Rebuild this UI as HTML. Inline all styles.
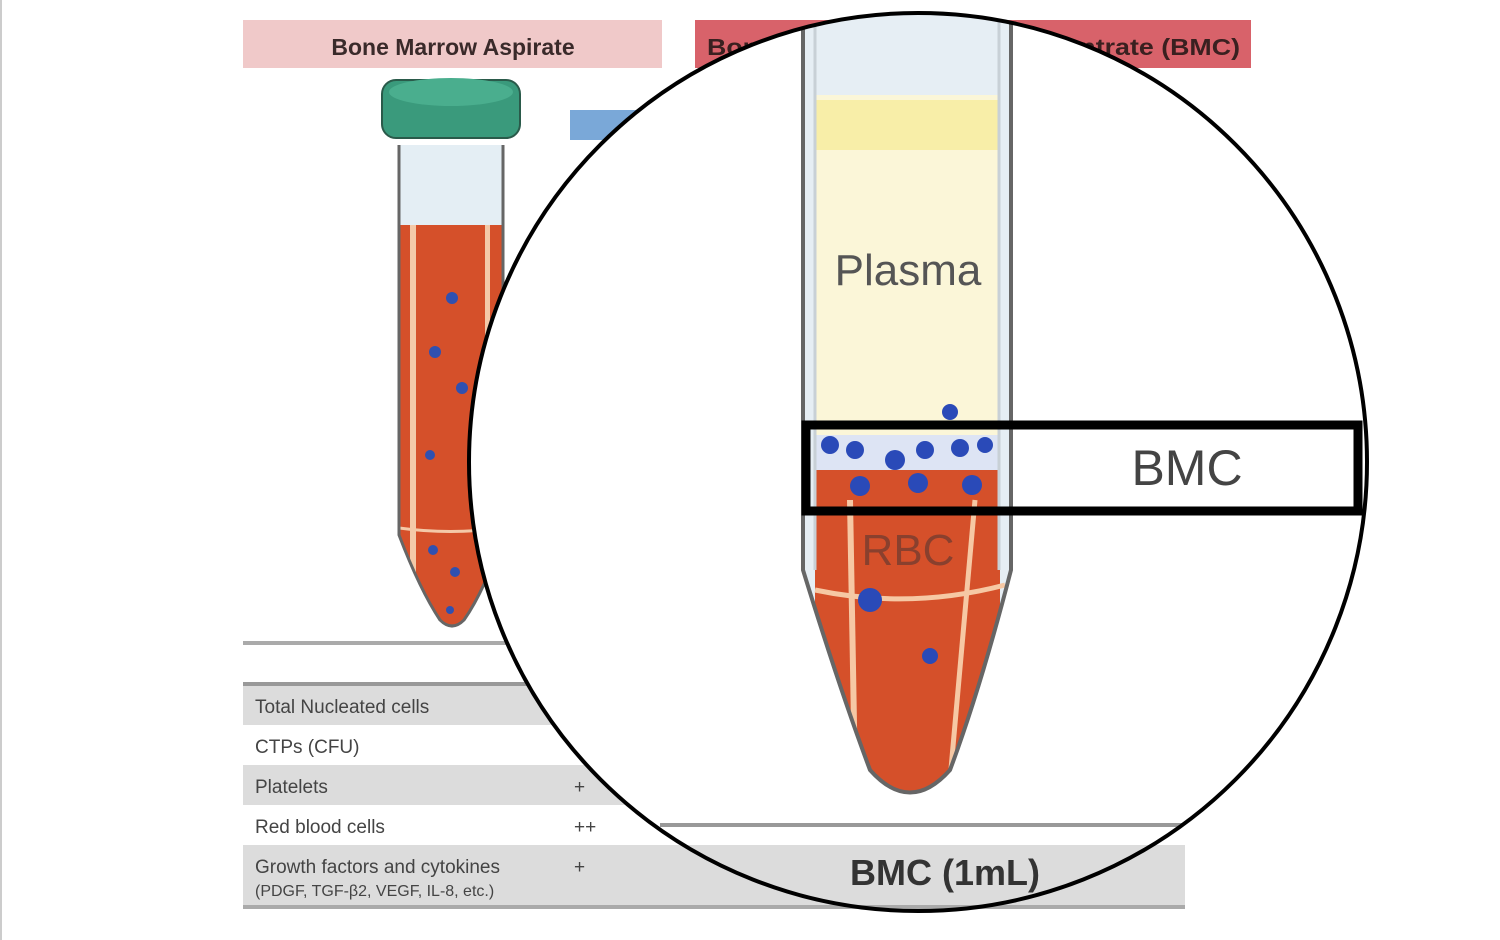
<!DOCTYPE html>
<html><head><meta charset="utf-8"><style>
html,body{margin:0;padding:0;background:#fff;}
svg{display:block;}
text{font-family:"Liberation Sans",sans-serif;}
</style></head><body>
<svg width="1500" height="940" viewBox="0 0 1500 940" xmlns="http://www.w3.org/2000/svg">
<defs>
<clipPath id="c"><circle cx="918" cy="462" r="449"/></clipPath>
<clipPath id="bt"><path d="M803 0 L803 570 Q840 690 870 770 Q910 815 950 770 Q980 690 1011 570 L1011 0 Z"/></clipPath>
<clipPath id="st"><path d="M399 145 L399 535 Q420 590 440 620 Q452 632 464 620 Q485 590 503 535 L503 145 Z"/></clipPath>
</defs>
<rect x="0" y="0" width="2" height="940" fill="#ccc"/>
<!-- headers -->
<rect x="243" y="20" width="419" height="48" fill="#f0c9c9"/>
<text x="453" y="55" font-size="23" font-weight="bold" text-anchor="middle" fill="#3a2a2a">Bone Marrow Aspirate</text>
<rect x="695" y="20" width="556" height="48" fill="#d8626a"/>
<text x="707" y="55" font-size="23" font-weight="bold" textLength="533" lengthAdjust="spacingAndGlyphs" fill="#3a2020">Bone Marrow Aspirate Concentrate (BMC)</text>
<rect x="570" y="110" width="70" height="30" fill="#7aa8d8"/>
<!-- small tube -->
<g clip-path="url(#st)">
<rect x="395" y="140" width="112" height="500" fill="#e4eef4"/>
<rect x="395" y="225" width="112" height="420" fill="#d5502a"/>
<rect x="410" y="225" width="6" height="400" fill="#f4c9a8"/>
<rect x="485" y="225" width="5" height="400" fill="#f4c9a8"/>
<path d="M399 528 Q450 535 503 528" stroke="#f4c9a8" stroke-width="3" fill="none"/>
</g>
<path d="M399 145 L399 535 Q420 590 440 620 Q452 632 464 620 Q485 590 503 535 L503 145" stroke="#666" stroke-width="3" fill="none"/>
<g fill="#3050b0"><circle cx="452" cy="298" r="6"/><circle cx="435" cy="352" r="6"/><circle cx="462" cy="388" r="6"/><circle cx="430" cy="455" r="5"/><circle cx="433" cy="550" r="5"/><circle cx="455" cy="572" r="5"/><circle cx="450" cy="610" r="4"/></g>
<rect x="382" y="80" width="138" height="58" rx="14" fill="#3a9a7c" stroke="#2a5a4a" stroke-width="2"/>
<ellipse cx="451" cy="92" rx="62" ry="14" fill="#4aae8e"/>
<!-- table -->
<rect x="243" y="641" width="420" height="4" fill="#aaa"/>
<rect x="243" y="682" width="950" height="4" fill="#999"/>
<rect x="243" y="686" width="950" height="39" fill="#dcdcdc"/>
<rect x="243" y="765" width="950" height="40" fill="#dcdcdc"/>
<rect x="243" y="845" width="942" height="60" fill="#dcdcdc"/>
<rect x="243" y="905" width="942" height="4" fill="#aaa"/>
<g font-size="19" fill="#444">
<text x="255" y="713">Total Nucleated cells</text>
<text x="255" y="753">CTPs (CFU)</text>
<text x="255" y="793">Platelets</text>
<text x="255" y="833">Red blood cells</text>
<text x="255" y="873">Growth factors and cytokines</text>
<text x="255" y="896" font-size="16">(PDGF, TGF-β2, VEGF, IL-8, etc.)</text>
<text x="574" y="793">+</text><text x="574" y="833">++</text><text x="574" y="873">+</text>
</g>
<!-- magnifier -->
<circle cx="918" cy="462" r="449" fill="#fff"/>
<g clip-path="url(#c)">
<rect x="243" y="845" width="942" height="60" fill="#dcdcdc"/>
<rect x="243" y="905" width="942" height="4" fill="#aaa"/>
<rect x="660" y="823" width="525" height="4" fill="#999"/>
<text x="945" y="885" font-size="36" font-weight="bold" text-anchor="middle" fill="#333">BMC (1mL)</text>
<g clip-path="url(#bt)">
<rect x="795" y="0" width="230" height="820" fill="#e6eef4"/>
<rect x="815" y="95" width="185" height="340" fill="#fbf6d8"/>
<rect x="815" y="100" width="185" height="50" fill="#f7ec9c" opacity="0.8"/>
<rect x="815" y="435" width="185" height="40" fill="#dde4f4"/>
<rect x="815" y="470" width="185" height="360" fill="#d5502a"/>
<path d="M815 590 Q910 610 1005 585" stroke="#f6c8a4" stroke-width="5" fill="none"/>
<path d="M850 500 L855 780" stroke="#f6c8a4" stroke-width="6"/>
<path d="M975 500 L950 780" stroke="#f6c8a4" stroke-width="5"/>
</g>
<path d="M803 0 L803 570 Q840 690 870 770 Q910 815 950 770 Q980 690 1011 570 L1011 0" stroke="#666" stroke-width="4" fill="none"/>
<path d="M815 0 L815 570 M999 0 L999 570" stroke="#c8d0d6" stroke-width="3" fill="none"/>
<g fill="#2a4ab8"><circle cx="950" cy="412" r="8"/><circle cx="830" cy="445" r="9"/><circle cx="855" cy="450" r="9"/><circle cx="895" cy="460" r="10"/><circle cx="925" cy="450" r="9"/><circle cx="960" cy="448" r="9"/><circle cx="985" cy="445" r="8"/><circle cx="860" cy="486" r="10"/><circle cx="918" cy="483" r="10"/><circle cx="972" cy="485" r="10"/><circle cx="870" cy="600" r="12"/><circle cx="930" cy="656" r="8"/></g>
<text x="908" y="285" font-size="44" text-anchor="middle" fill="#555">Plasma</text>
<text x="908" y="565" font-size="44" text-anchor="middle" fill="#6a3a30" opacity="0.7">RBC</text>
<rect x="806" y="425" width="552" height="86" fill="none" stroke="#000" stroke-width="9"/>
<text x="1187" y="485" font-size="50" text-anchor="middle" fill="#444">BMC</text>
</g>
<circle cx="918" cy="462" r="449" fill="none" stroke="#000" stroke-width="4"/>
</svg>
</body></html>
